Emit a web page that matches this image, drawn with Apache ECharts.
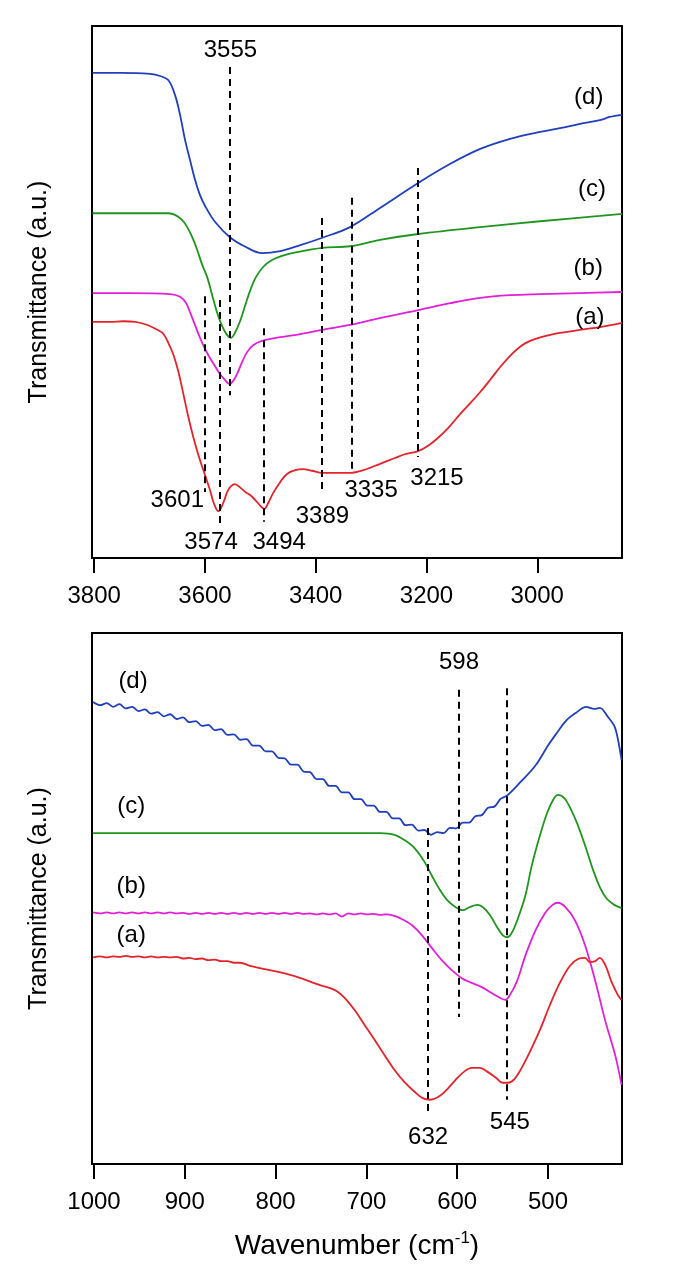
<!DOCTYPE html>
<html>
<head>
<meta charset="utf-8">
<script src="https://cdn.jsdelivr.net/npm/echarts@6/dist/echarts.min.js"></script>
<style>html,body{margin:0;padding:0;background:#fff;}#c{width:679px;height:1265px;}</style>
</head>
<body>
<div id="c"></div>
<script>
// ---------- DATA (wavenumber cm-1, transmittance a.u.) ----------
const topTicks = [3800, 3600, 3400, 3200, 3000];
const bottomTicks = [1000, 900, 800, 700, 600, 500];

// Top panel (OH stretching region)
const topD = [[3803,91.2],[3753,91.2],[3699,91.0],[3681,90.6],[3666,89.8],[3654,87.0],[3645,83.3],[3636,78.6],[3627,74.8],[3618,71.1],[3609,68.2],[3600,66.2],[3582,63.2],[3555,60.3],[3527,58.5],[3497,57.3],[3464,57.7],[3428,58.8],[3388,60.2],[3338,62.2],[3284,65.8],[3215,70.5],[3157,74.1],[3103,76.9],[3049,78.8],[2995,80.1],[2959,80.8],[2923,81.6],[2887,82.3],[2869,82.9],[2847,83.3]];
const topC = [[3803,64.8],[3735,64.8],[3666,64.8],[3654,64.5],[3641,63.5],[3632,62.2],[3623,60.3],[3614,57.9],[3605,55.1],[3596,52.8],[3587,49.4],[3578,46.1],[3569,43.6],[3560,41.9],[3553,41.4],[3546,42.3],[3536,44.7],[3527,47.6],[3518,50.4],[3508,52.8],[3495,54.7],[3479,56.0],[3461,56.8],[3434,57.5],[3388,58.3],[3338,58.6],[3284,59.8],[3215,60.9],[3103,62.2],[2995,63.3],[2887,64.3],[2847,64.7]];
const topB = [[3803,49.8],[3735,49.8],[3663,49.6],[3645,49.1],[3634,47.9],[3627,46.2],[3618,43.8],[3609,41.4],[3600,39.3],[3591,37.6],[3582,36.1],[3573,34.6],[3564,33.5],[3556,32.7],[3549,33.3],[3542,34.6],[3533,36.8],[3524,38.7],[3513,40.0],[3497,40.8],[3464,41.5],[3428,42.1],[3388,42.9],[3338,43.8],[3284,45.1],[3215,46.6],[3157,47.9],[3103,48.9],[3049,49.4],[2995,49.6],[2923,49.8],[2847,50.0]];
const topA = [[3803,44.4],[3771,44.4],[3748,44.5],[3726,44.4],[3704,43.8],[3686,42.9],[3675,42.1],[3666,40.4],[3657,38.2],[3648,35.0],[3639,30.8],[3630,26.5],[3621,22.7],[3612,19.4],[3603,16.5],[3598,15.0],[3591,12.8],[3584,10.3],[3576,8.8],[3571,9.4],[3565,10.9],[3560,12.4],[3553,13.5],[3546,13.9],[3536,13.2],[3527,12.4],[3518,11.8],[3509,10.9],[3500,9.8],[3493,9.2],[3486,10.3],[3477,12.2],[3464,14.3],[3452,15.8],[3437,16.5],[3423,16.7],[3407,16.4],[3388,16.0],[3365,16.0],[3338,16.0],[3314,16.5],[3284,17.7],[3257,18.8],[3239,19.5],[3215,20.1],[3197,21.1],[3179,22.6],[3161,24.4],[3139,27.1],[3121,29.1],[3103,31.2],[3085,33.5],[3067,35.9],[3049,38.0],[3031,39.7],[3013,40.8],[2986,41.7],[2959,42.3],[2923,42.9],[2887,43.4],[2847,44.2]];

// Bottom panel (lattice region) - includes the visible ripples of the spectra
const botD = [[1001,87.0],[993,86.4],[986,86.8],[979,86.1],[972,86.6],[965,85.8],[958,86.1],[951,85.3],[944,85.6],[937,84.8],[930,85.1],[923,84.3],[916,84.7],[909,83.8],[902,84.1],[895,83.2],[888,83.4],[881,82.5],[874,82.7],[867,81.7],[860,81.9],[853,80.8],[846,80.9],[839,79.9],[832,80.0],[825,78.8],[818,78.8],[811,77.7],[804,77.7],[797,76.5],[790,76.4],[783,75.2],[776,75.2],[769,73.9],[762,73.8],[755,72.5],[748,72.5],[741,71.2],[734,71.2],[727,70.0],[720,70.0],[713,68.7],[706,68.7],[699,67.5],[692,67.5],[685,66.3],[678,66.3],[671,65.1],[664,65.1],[657,63.8],[650,63.9],[643,62.8],[636,62.9],[629,62.0],[622,62.5],[615,62.3],[608,63.3],[601,63.2],[594,64.3],[587,64.3],[580,65.5],[573,65.7],[566,67.1],[559,67.3],[552,68.8],[545,69.4],[531,71.8],[514,75.0],[500,78.8],[491,81.0],[480,83.5],[469,85.0],[458,86.1],[449,85.7],[443,85.9],[434,84.2],[427,82.5],[423,80.0],[419,76.1]];
const botC = [[1001,62.3],[883,62.3],[773,62.3],[685,62.3],[669,62.0],[658,61.0],[647,59.5],[636,56.9],[627,54.0],[619,51.6],[611,49.7],[602,48.4],[594,47.8],[586,48.4],[578,48.8],[572,48.4],[564,46.9],[556,44.6],[550,43.1],[545,42.7],[540,43.5],[533,46.3],[525,50.5],[518,56.1],[509,61.8],[501,66.1],[494,68.7],[489,69.5],[482,68.9],[476,67.2],[468,64.2],[459,59.9],[450,55.2],[442,51.8],[435,49.9],[427,48.8],[419,48.2]];
const botB = [[1001,47.4],[993,47.2],[986,47.4],[979,47.2],[972,47.4],[965,47.2],[958,47.4],[951,47.2],[944,47.4],[937,47.2],[930,47.4],[923,47.2],[916,47.4],[909,47.2],[902,47.3],[895,47.1],[888,47.3],[881,47.1],[874,47.3],[867,47.1],[860,47.3],[853,47.1],[846,47.3],[839,47.1],[832,47.3],[825,47.1],[818,47.3],[811,47.1],[804,47.3],[797,47.1],[790,47.3],[783,47.1],[776,47.3],[769,47.1],[762,47.2],[755,47.0],[748,47.2],[741,47.0],[734,47.2],[727,46.6],[720,47.2],[713,47.0],[706,47.2],[699,47.0],[692,47.1],[685,46.9],[678,47.0],[671,46.8],[663,46.3],[650,45.0],[639,43.1],[628,40.7],[617,38.4],[606,36.5],[595,35.0],[584,34.1],[573,33.3],[562,32.2],[553,31.3],[547,30.9],[542,31.8],[534,34.5],[525,39.2],[514,43.9],[503,47.3],[495,48.8],[489,49.2],[481,48.4],[470,45.8],[459,41.1],[448,34.5],[437,27.0],[426,20.5],[419,14.9]];
const botA = [[1001,38.9],[993,39.1],[986,38.9],[979,39.1],[972,39.0],[965,39.2],[958,39.0],[951,39.1],[944,38.9],[937,39.1],[930,38.9],[923,39.0],[916,38.9],[909,39.0],[902,38.7],[895,38.8],[888,38.6],[881,38.7],[874,38.4],[867,38.5],[860,38.2],[853,38.2],[846,37.9],[839,37.9],[828,37.3],[784,35.6],[751,33.7],[735,32.8],[724,31.3],[713,29.0],[702,26.2],[691,23.4],[680,20.5],[669,17.7],[658,15.4],[647,13.6],[638,12.4],[630,12.1],[621,12.6],[612,13.9],[602,15.8],[593,17.3],[584,18.1],[575,18.1],[566,17.3],[557,16.2],[550,15.3],[544,15.3],[537,16.0],[529,18.1],[520,21.1],[509,25.2],[498,29.9],[487,34.1],[476,37.3],[467,38.6],[459,38.8],[454,38.0],[448,38.2],[443,38.8],[437,37.5],[430,34.3],[423,31.8],[419,30.9]];

// Dashed marker lines: [wavenumber, yFrom, yTo]
const topMarks = [[3601,49.2,12.4],[3574,48.5,6.2],[3555,92.3,30.6],[3494,43.2,6.8],[3389,63.9,12.4],[3335,67.7,16.0],[3215,73.3,19.0]];
const botMarks = [[632,63.3,9.8],[598,89.3,27.7],[545,89.6,12.1]];

// Text annotations: [wavenumber, y, text]
const topNotes = [[3554,95.5,'3555'],[3650,10.9,'3601'],[3589,3.0,'3574'],[3466,3.0,'3494'],[3388,7.9,'3389'],[3300,12.8,'3335'],[3181,15.0,'3215'],[2907,86.5,'(d)'],[2901,69.2,'(c)'],[2908,54.5,'(b)'],[2905,45.3,'(a)']];
const botNotes = [[957,90.8,'(d)'],[959,67.4,'(c)'],[959,52.2,'(b)'],[959,43.1,'(a)'],[598,94.5,'598'],[632,5.1,'632'],[542,7.9,'545']];

// ---------- CHART ----------
const FONT = '"Liberation Sans", Arial, sans-serif';
const TXT = '#000';
const colors = {a:'#e3242b', b:'#e21fd9', c:'#1f951f', d:'#1f3fbd'};

function xAxisCfg(gi, min, max, ticks, extra) {
  return Object.assign({
    type:'value', gridIndex:gi, inverse:true, min:min, max:max,
    axisLine:{show:false},
    axisTick:{show:true, inside:false, length:15, customValues:ticks, lineStyle:{color:'#000', width:2}},
    axisLabel:{customValues:ticks, margin:26, fontSize:24, color:TXT, fontFamily:FONT, formatter:v => String(v)},
    splitLine:{show:false}
  }, extra||{});
}
function yAxisCfg(gi) {
  return {
    type:'value', gridIndex:gi, min:0, max:100,
    name:'Transmittance (a.u.)', nameLocation:'middle', nameGap:40, nameRotate:90,
    nameTextStyle:{fontSize:25, color:TXT, fontFamily:FONT},
    axisLine:{show:false}, axisTick:{show:false}, axisLabel:{show:false}, splitLine:{show:false}
  };
}
function curve(data, color, gi) {
  return {type:'line', xAxisIndex:gi, yAxisIndex:gi, data:data, showSymbol:false, symbol:'none',
    smooth:0.35, lineStyle:{color:color, width:1.8}, silent:true, z:3};
}
function marks(list, gi) {
  return {type:'line', xAxisIndex:gi, yAxisIndex:gi, data:[], silent:true,
    markLine:{symbol:['none','none'], silent:true, label:{show:false},
      lineStyle:{color:'#000', width:2, type:[7,5]},
      data:list.map(m => [{coord:[m[0], m[1]]},{coord:[m[0], m[2]]}])}};
}
function notes(list, gi) {
  return {type:'scatter', xAxisIndex:gi, yAxisIndex:gi, symbolSize:0, silent:true,
    itemStyle:{opacity:1},
    data:list.map(n => ({value:[n[0], n[1]], name:n[2]})),
    label:{show:true, position:'inside', formatter:'{b}', fontSize:24, color:TXT, fontFamily:FONT,
      align:'center', verticalAlign:'middle', opacity:1}, z:5};
}

const chart = echarts.init(document.getElementById('c'), null, {renderer:'canvas'});
chart.setOption({
  backgroundColor:'#fff',
  animation:false,
  grid:[
    {left:92, top:26, width:530, height:532, show:true, borderColor:'#000', borderWidth:2, backgroundColor:'transparent'},
    {left:92, top:633, width:530, height:531, show:true, borderColor:'#000', borderWidth:2, backgroundColor:'transparent'}
  ],
  xAxis:[
    xAxisCfg(0, 2847, 3804, topTicks),
    xAxisCfg(1, 418.5, 1002.2, bottomTicks, {
      name:'Wavenumber (cm{sup|-1})', nameLocation:'middle', nameGap:66,
      nameTextStyle:{fontSize:28, color:TXT, fontFamily:FONT,
        rich:{sup:{fontSize:17, color:TXT, fontFamily:FONT, verticalAlign:'top', padding:[0,0,16,0]}}}
    })
  ],
  yAxis:[yAxisCfg(0), yAxisCfg(1)],
  series:[
    curve(topD, colors.d, 0), curve(topC, colors.c, 0), curve(topB, colors.b, 0), curve(topA, colors.a, 0),
    curve(botD, colors.d, 1), curve(botC, colors.c, 1), curve(botB, colors.b, 1), curve(botA, colors.a, 1),
    marks(topMarks, 0), marks(botMarks, 1),
    notes(topNotes, 0), notes(botNotes, 1)
  ]
});
</script>
</body>
</html>
